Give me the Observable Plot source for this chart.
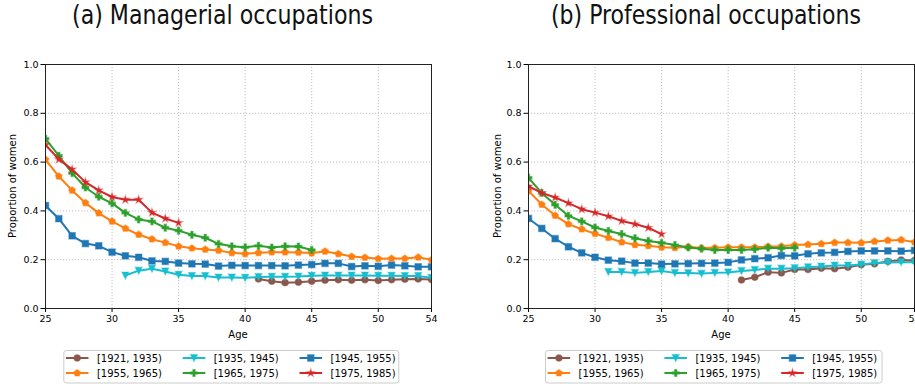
<!DOCTYPE html>
<html>
<head>
<meta charset="utf-8">
<script src="https://cdn.jsdelivr.net/npm/d3@7"></script>
<script src="https://cdn.jsdelivr.net/npm/@observablehq/plot@0.6"></script>
<style>
  html, body { margin: 0; padding: 0; background: #fff; }
  #wrap { position: relative; width: 915px; height: 388px; overflow: hidden; background: #fff; }
  #wrap > svg { position: absolute; top: 0; }
  #overlay { pointer-events: none; }
</style>
</head>
<body>
<div id="wrap"></div>
<script>
// ---------- data ----------
const ages = [25,26,27,28,29,30,31,32,33,34,35,36,37,38,39,40,41,42,43,44,45,46,47,48,49,50,51,52,53,54];
const cohorts = ["[1921, 1935)", "[1935, 1945)", "[1945, 1955)", "[1955, 1965)", "[1965, 1975)", "[1975, 1985)"];
const startAges = [41, 31, 25, 25, 25, 25];
const colors = ["#8c564b", "#17becf", "#1f77b4", "#ff7f0e", "#2ca02c", "#d62728"];
const xTicks = [25, 30, 35, 40, 45, 50, 54];
const yTicks = [0, 0.2, 0.4, 0.6, 0.8, 1.0];
const titles = ["(a) Managerial occupations", "(b) Professional occupations"];
const xLabel = "Age";
const yLabel = "Proportion of women";

// (a) Managerial occupations
const mgr1921 = [0.121, 0.112, 0.106, 0.108, 0.112, 0.116, 0.118, 0.116, 0.118, 0.115, 0.118, 0.120, 0.121, 0.119];
const mgr1935 = [0.135, 0.155, 0.163, 0.152, 0.138, 0.133, 0.133, 0.127, 0.127, 0.126, 0.129, 0.130, 0.130, 0.131, 0.134, 0.135, 0.135, 0.135, 0.135, 0.134, 0.134, 0.133, 0.133, 0.126];
const mgr1945 = [0.422, 0.368, 0.298, 0.266, 0.257, 0.231, 0.216, 0.210, 0.195, 0.193, 0.186, 0.183, 0.182, 0.174, 0.177, 0.176, 0.176, 0.176, 0.175, 0.178, 0.180, 0.185, 0.185, 0.172, 0.175, 0.173, 0.178, 0.175, 0.171, 0.171];
const mgr1955 = [0.610, 0.542, 0.484, 0.433, 0.391, 0.357, 0.328, 0.303, 0.284, 0.270, 0.255, 0.247, 0.242, 0.238, 0.228, 0.224, 0.228, 0.231, 0.231, 0.230, 0.227, 0.234, 0.224, 0.213, 0.209, 0.204, 0.205, 0.205, 0.210, 0.199];
const mgr1965 = [0.696, 0.626, 0.555, 0.496, 0.458, 0.431, 0.392, 0.365, 0.357, 0.331, 0.319, 0.302, 0.290, 0.265, 0.255, 0.251, 0.257, 0.250, 0.255, 0.254, 0.240];
const mgr1975 = [0.671, 0.611, 0.570, 0.518, 0.484, 0.457, 0.446, 0.446, 0.393, 0.369, 0.351];

// (b) Professional occupations
const pro1921 = [0.117, 0.128, 0.149, 0.146, 0.160, 0.160, 0.165, 0.163, 0.169, 0.179, 0.183, 0.193, 0.199, 0.197];
const pro1935 = [0.150, 0.150, 0.146, 0.150, 0.154, 0.146, 0.145, 0.143, 0.146, 0.148, 0.154, 0.158, 0.163, 0.163, 0.165, 0.169, 0.172, 0.176, 0.176, 0.180, 0.186, 0.189, 0.190, 0.190];
const pro1945 = [0.369, 0.328, 0.286, 0.253, 0.228, 0.210, 0.198, 0.194, 0.186, 0.186, 0.182, 0.183, 0.184, 0.185, 0.186, 0.189, 0.199, 0.204, 0.208, 0.217, 0.216, 0.224, 0.228, 0.230, 0.234, 0.236, 0.236, 0.236, 0.235, 0.238];
const pro1955 = [0.482, 0.426, 0.381, 0.346, 0.325, 0.307, 0.290, 0.272, 0.261, 0.257, 0.251, 0.249, 0.253, 0.248, 0.249, 0.251, 0.251, 0.251, 0.254, 0.255, 0.260, 0.262, 0.265, 0.270, 0.270, 0.269, 0.275, 0.279, 0.281, 0.272];
const pro1965 = [0.536, 0.473, 0.425, 0.380, 0.357, 0.332, 0.318, 0.305, 0.288, 0.277, 0.269, 0.260, 0.250, 0.245, 0.240, 0.240, 0.240, 0.243, 0.249, 0.247, 0.249];
const pro1975 = [0.501, 0.474, 0.455, 0.432, 0.407, 0.393, 0.378, 0.359, 0.346, 0.331, 0.305];

const panels = [
  [mgr1921, mgr1935, mgr1945, mgr1955, mgr1965, mgr1975],
  [pro1921, pro1935, pro1945, pro1955, pro1965, pro1975]
];

// ---------- symbols (matplotlib-like markers) ----------
const rad = s => Math.sqrt(s / Math.PI);
const symCircle = {draw(c, s) { const r = rad(s); c.moveTo(r, 0); c.arc(0, 0, r, 0, 2 * Math.PI); c.closePath(); }};
const symTriDown = {draw(c, s) { const r = rad(s) * 1.05; c.moveTo(0, r); c.lineTo(-r, -r); c.lineTo(r, -r); c.closePath(); }};
const symSquare = {draw(c, s) { const r = rad(s) * 0.98; c.rect(-r, -r, 2 * r, 2 * r); }};
const symPentagon = {draw(c, s) { const r = rad(s) * 1.08;
  for (let k = 0; k < 5; k++) { const a = -Math.PI / 2 + k * 2 * Math.PI / 5; const px = r * Math.cos(a), py = r * Math.sin(a); k ? c.lineTo(px, py) : c.moveTo(px, py); }
  c.closePath(); }};
const symPlus = {draw(c, s) { const r = rad(s) * 1.05, w = r / 3;
  const p = [[-w,-r],[w,-r],[w,-w],[r,-w],[r,w],[w,w],[w,r],[-w,r],[-w,w],[-r,w],[-r,-w],[-w,-w]];
  p.forEach(([px, py], i) => i ? c.lineTo(px, py) : c.moveTo(px, py)); c.closePath(); }};
const symStar = {draw(c, s) { const R = rad(s) * 1.15, ri = R * 0.382;
  for (let k = 0; k < 10; k++) { const a = -Math.PI / 2 + k * Math.PI / 5; const rr = k % 2 ? ri : R; const px = rr * Math.cos(a), py = rr * Math.sin(a); k ? c.lineTo(px, py) : c.moveTo(px, py); }
  c.closePath(); }};
const symbols = [symCircle, symTriDown, symSquare, symPentagon, symPlus, symStar];

const markerR = 3.3;

// ---------- build rows ----------
function rowsFor(series) {
  const out = [];
  series.forEach((vals, i) => {
    const i0 = ages.indexOf(startAges[i]);
    vals.forEach((v, j) => out.push({cohort: cohorts[i], age: ages[i0 + j], value: v}));
  });
  return out;
}

const wrap = document.getElementById("wrap");

const layouts = [
  {left: 0, width: 457, marginLeft: 45, marginRight: 26},
  {left: 457, width: 480, marginLeft: 71, marginRight: 23}
];

panels.forEach((series, pi) => {
  const L = layouts[pi];
  const data = rowsFor(series);
  const marks = [
    Plot.gridX({ticks: [30, 35, 40, 45, 50], stroke: "#b0b0b0", strokeOpacity: 1, strokeWidth: 0.8, strokeDasharray: "1.2,1.8"}),
    Plot.gridY({ticks: [0.2, 0.4, 0.6, 0.8], stroke: "#b0b0b0", strokeOpacity: 1, strokeWidth: 0.8, strokeDasharray: "1.2,1.8"}),
    Plot.axisX({ticks: xTicks, tickFormat: d => String(d), tickSize: 4, tickPadding: 2.5, label: null, stroke: "#000"}),
    Plot.axisY({ticks: yTicks, tickFormat: d3.format(".1f"), tickSize: 4.5, tickPadding: 2.5, label: null, stroke: "#000"})
  ];
  cohorts.forEach(c => {
    const rows = data.filter(d => d.cohort === c);
    marks.push(Plot.line(rows, {x: "age", y: "value", stroke: "cohort", strokeWidth: 2, clip: true}));
    marks.push(Plot.dot(rows, {x: "age", y: "value", symbol: "cohort", fill: "cohort", stroke: "cohort", strokeOpacity: 0.45, strokeWidth: 1.3, r: markerR, clip: true}));
  });
  marks.push(Plot.frame({stroke: "#222", strokeWidth: 1}));
  const chart = Plot.plot({
    width: L.width,
    height: 345,
    marginTop: 64,
    marginBottom: 37,
    marginLeft: L.marginLeft,
    marginRight: L.marginRight,
    x: {domain: [25, 54], label: null},
    y: {domain: [0, 1], label: null},
    color: {domain: cohorts, range: colors},
    symbol: {domain: cohorts, range: symbols},
    style: {fontFamily: "DejaVu Sans", fontSize: "9.5px", color: "#000", background: "transparent", overflow: "visible"},
    marks
  });
  chart.style.left = L.left + "px";
  wrap.appendChild(chart);
});

// ---------- overlay: titles, axis labels, legends ----------
const ov = d3.select(wrap).append("svg").attr("id", "overlay")
  .attr("width", 915).attr("height", 388).attr("viewBox", "0 0 915 388")
  .style("left", "0px");

const titlePos = [{x: 72, len: 301}, {x: 551, len: 310}];
titles.forEach((t, i) => {
  ov.append("text").attr("x", titlePos[i].x).attr("y", 23.5)
    .attr("textLength", titlePos[i].len).attr("lengthAdjust", "spacingAndGlyphs")
    .attr("font-family", "'Liberation Sans Narrow', 'DejaVu Sans Condensed', 'DejaVu Sans', sans-serif")
    .attr("font-size", 27).attr("fill", "#111").text(t);
});

const axisCenters = [{xc: 238, yl: 12}, {xc: 721, yl: 497}];
axisCenters.forEach(a => {
  ov.append("text").attr("x", a.xc).attr("y", 337.5).attr("text-anchor", "middle")
    .attr("font-family", "DejaVu Sans").attr("font-size", 10).attr("fill", "#000").text(xLabel);
  ov.append("text").attr("transform", `translate(${a.yl},186) rotate(-90)`)
    .attr("text-anchor", "middle").attr("dominant-baseline", "central")
    .attr("font-family", "DejaVu Sans").attr("font-size", 10).attr("fill", "#000").text(yLabel);
});

const legendBoxes = [{x: 63.3, w: 335}, {x: 545, w: 336.5}];
legendBoxes.forEach(b => {
  const g = ov.append("g");
  g.append("rect").attr("x", b.x + 0.5).attr("y", 350.5).attr("width", b.w).attr("height", 32.5)
    .attr("rx", 2.5).attr("fill", "#fff").attr("fill-opacity", 0.8).attr("stroke", "#cccccc").attr("stroke-width", 1);
  cohorts.forEach((c, i) => {
    const col = i % 3, row = Math.floor(i / 3);
    const lx = b.x + 2.6 + col * 116.8;
    const cy = row ? 373 : 358;
    g.append("line").attr("x1", lx).attr("x2", lx + 22.6).attr("y1", cy).attr("y2", cy)
      .attr("stroke", colors[i]).attr("stroke-width", 2);
    const p = d3.path();
    symbols[i].draw(p, Math.PI * markerR * markerR);
    g.append("path").attr("d", p.toString()).attr("transform", `translate(${lx + 11.3},${cy})`)
      .attr("fill", colors[i]).attr("stroke", colors[i]).attr("stroke-opacity", 0.45).attr("stroke-width", 1.3);
    g.append("text").attr("x", lx + 31).attr("y", cy).attr("dominant-baseline", "central")
      .attr("font-family", "DejaVu Sans").attr("font-size", 10).attr("fill", "#000").text(c);
  });
});
</script>
</body>
</html>
